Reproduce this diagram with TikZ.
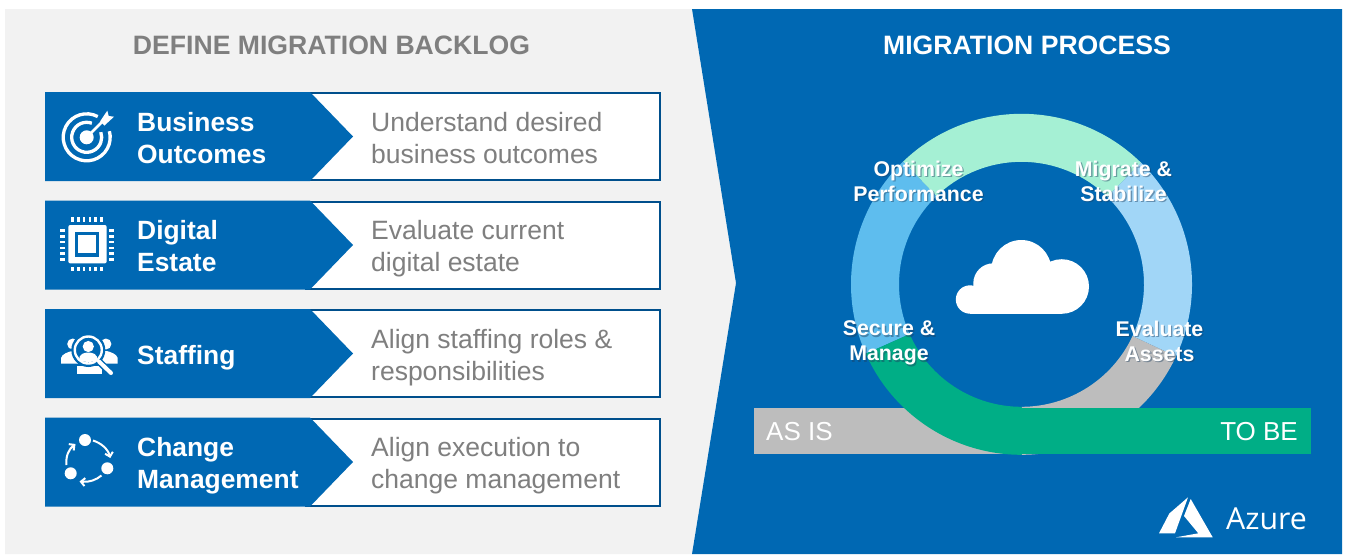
\documentclass[tikz,border=0pt]{standalone}
\usepackage{fontspec}
\setmainfont{Liberation Sans}
\newfontfamily\azurefont{Open Sans}
\usetikzlibrary{calc,arrows.meta}
\definecolor{panelblue}{HTML}{0068B3}
\definecolor{paneldark}{HTML}{004F8C}
\definecolor{panelgray}{HTML}{F2F2F2}
\definecolor{txtgray}{HTML}{7F7F7F}
\definecolor{mintseg}{HTML}{A5F0D4}
\definecolor{leftseg}{HTML}{5EBDEE}
\definecolor{rightseg}{HTML}{A1D6F7}
\definecolor{grayseg}{HTML}{BDBDBD}
\definecolor{greenseg}{HTML}{00AE86}
\definecolor{shadowcol}{HTML}{1F3F5F}
\tikzset{
  heading/.style={font=\fontsize{26.6}{31}\selectfont\bfseries,anchor=center,inner sep=0pt},
  rowtitle/.style={font=\fontsize{26.4}{32}\selectfont\bfseries,text=white,anchor=west,align=left,inner sep=0pt},
  rowdesc/.style={font=\fontsize{26.5}{32}\selectfont,text=txtgray,anchor=west,align=left,inner sep=0pt},
  ringlabel/.style={font=\fontsize{21.3}{25}\selectfont\bfseries,text=white,anchor=center,align=center,inner sep=0pt},
  barlabel/.style={font=\fontsize{26}{31}\selectfont,text=white,inner sep=0pt},
  iconline/.style={draw=white,line width=2.6pt},
}
\newcommand\rowshape[1]{%
  \fill[white] (300,#1) rectangle (661,#1+89);
  \draw[paneldark,line width=2pt] (305,#1+1) -- (660,#1+1) -- (660,#1+88) -- (305,#1+88);
  \fill[panelblue] (45,#1) -- (310,#1) -- (353,#1+44.5) -- (310,#1+89) -- (45,#1+89) -- cycle;
}
\newcommand\ringseg[4][]{\fill[#2] ($(rc)+(#3:170.5pt)$) arc[start angle=#3,end angle=#4,radius=170.5pt] -- ($(rc)+(#4:122.5pt)$) arc[start angle=#4,end angle=#3,radius=122.5pt] -- cycle;}
\newcommand\shlabel[4]{%
  \node[ringlabel,text=shadowcol,opacity=.45] at (#2+1.3,#3+1.5) {#4};
  \node[ringlabel] (#1) at (#2,#3) {#4};
}
\begin{document}
\begin{tikzpicture}[x=1pt,y=-1pt]
\useasboundingbox (0,0) rectangle (1348,554);
\fill[panelgray] (5,9) -- (692,9) -- (736,283) -- (692,554) -- (5,554) -- cycle;
\fill[panelblue] (692,9) -- (1342,9) -- (1342,554) -- (692,554) -- (736,283) -- cycle;
\node[heading,text=txtgray] (lefthead) at (331.5,45.5) {DEFINE MIGRATION BACKLOG};
\node[heading,text=white] (righthead) at (1027,45.5) {MIGRATION PROCESS};
% rows
\rowshape{92}\rowshape{200.5}\rowshape{309}\rowshape{417.5}
\node[rowtitle] (t1) at (137,138.5) {Business\\Outcomes};
\node[rowtitle] (t2) at (137,246) {Digital\\Estate};
\node[rowtitle] (t3) at (137,358) {Staffing};
\node[rowtitle] (t4) at (137,466) {Change\\Management};
\node[rowdesc] (d1) at (371,138) {Understand desired\\business outcomes};
\node[rowdesc] (d2) at (371,249) {Evaluate current\\digital estate};
\node[rowdesc] (d3) at (371,358) {Align staffing roles \&\\responsibilities};
\node[rowdesc] (d4) at (371,466) {Align execution to\\change management};
% target icon
\draw[iconline,line width=3.3pt] (86.7,137.3) ++(62:23.5pt) arc[start angle=62,end angle=375,radius=23.5pt];
\draw[iconline,line width=3.3pt] (86.7,137.3) ++(70:15pt) arc[start angle=70,end angle=380,radius=15pt];
\fill[white] (86.7,137.3) circle[radius=7pt];
\draw[panelblue,line width=5.5pt] (94,130) -- (104,120);
\draw[white,line width=2.6pt] (87,137) -- (104,120);
\fill[white] (100.2,121.2) -- (107.3,110.7) -- (108.7,116) -- (114,116.7) -- (104.5,125.5) -- cycle;
% chip icon
\fill[white,rounded corners=2pt] (68.3,225) rectangle (106.7,263.4);
\fill[panelblue] (75,231.7) rectangle (99.3,256.7);
\fill[white] (78.3,235) rectangle (96,253.3);
\foreach \px in {72.7,78.4,84.1,89.8,95.5,101.2}{
  \fill[white] (\px-1.3,217.3) rectangle (\px+1.3,221.7);
  \fill[white] (\px-1.3,266.7) rectangle (\px+1.3,271);
}
\foreach \py in {230.7,236.4,242.1,247.8,253.5,259.2}{
  \fill[white] (60,\py-1.3) rectangle (65,\py+1.3);
  \fill[white] (109.3,\py-1.3) rectangle (114,\py+1.3);
}
% staffing icon
\fill[white] (72.7,344) circle[radius=5.5pt];
\fill[white] (105.9,344) circle[radius=5.5pt];
\fill[white] (61,363.5) -- (61,358) .. controls (62,354) and (68,352) .. (72,351) -- (78,351) -- (78,363.5) -- cycle;
\fill[white] (117.7,363.5) -- (117.7,358) .. controls (116.7,354) and (110.7,352) .. (106.7,351) -- (100.7,351) -- (100.7,363.5) -- cycle;
\fill[white] (76.7,374) -- (76.7,366) -- (101.7,366) -- (101.7,374) -- cycle;
\fill[panelblue] (88.3,350) circle[radius=17pt];
\draw[white,line width=2.4pt] (88.3,350) circle[radius=13.5pt];
\fill[white] (88.3,346.5) circle[radius=5.6pt];
\fill[white] (79,360) .. controls (79,354) and (84,352.5) .. (88.3,352.5) .. controls (92.6,352.5) and (97.6,354) .. (97.6,360) .. controls (94,362.5) and (83,362.5) .. (79,360) -- cycle;
\draw[panelblue,line width=7pt] (98.5,361) -- (110,372.5);
\draw[white,line width=4pt,line cap=round] (99,361.5) -- (111,373);
% change icon
\fill[white] (85,440) circle[radius=6pt];
\fill[white] (107.3,468.3) circle[radius=6pt];
\fill[white] (70.7,473.3) circle[radius=6pt];
\draw[white,line width=2pt,-{Straight Barb[length=4pt,width=8pt]}] (93,440.5) .. controls (101,443) and (108,449) .. (110.3,458);
\draw[white,line width=2pt,-{Straight Barb[length=4pt,width=8pt]}] (101.5,475.5) .. controls (96,480) and (89,482.5) .. (79.5,481.5);
\draw[white,line width=2pt,-{Straight Barb[length=4pt,width=8pt]}] (66.5,465) .. controls (65.5,456) and (69,449) .. (75.5,444);
% ring
\coordinate (rc) at (1021.5,284.3);
\ringseg{mintseg}{45.5}{134}
\ringseg{leftseg}{134}{204}
\ringseg{rightseg}{-25}{45.5}
\ringseg{grayseg}{-90}{-25}
\fill[grayseg] (754,408) rectangle (1022,454);
\ringseg{greenseg}{204}{270}
\fill[greenseg] (1012,408) rectangle (1311,454);
\node[barlabel,anchor=west] (asis) at (766,431.5) {AS IS};
\node[barlabel,anchor=east] (tobe) at (1298,431.5) {TO BE};
% cloud
\fill[white] (1021.3,270) circle[radius=30pt] (1061.7,286.5) circle[radius=27.3pt] (993.3,283.3) circle[radius=20pt] (970,299.5) circle[radius=14.2pt];
\fill[white] (970,290) rectangle (1062,313.8);
\fill[white] (993,268) rectangle (1045,300);
\shlabel{l1}{918.5}{181}{Optimize\\Performance}
\shlabel{l2}{1123.5}{181}{Migrate \&\\Stabilize}
\shlabel{l3}{889}{343}{Secure \&\\Manage}
\shlabel{l4}{1159.5}{341}{Evaluate\\Assets}
% azure
\fill[white] (1188,497.3) -- (1169.3,513.5) -- (1159,533.3) -- (1175,533.3) -- cycle;
\fill[white] (1190.7,499) -- (1212.7,537.3) -- (1176,537.3) -- (1198.3,533.3) -- (1184,516) -- cycle;
\node[font=\azurefont\fontsize{30.3}{36}\selectfont,text=white,anchor=west,inner sep=0pt] (azure) at (1226,518.5) {Azure};
\end{tikzpicture}
\end{document}
